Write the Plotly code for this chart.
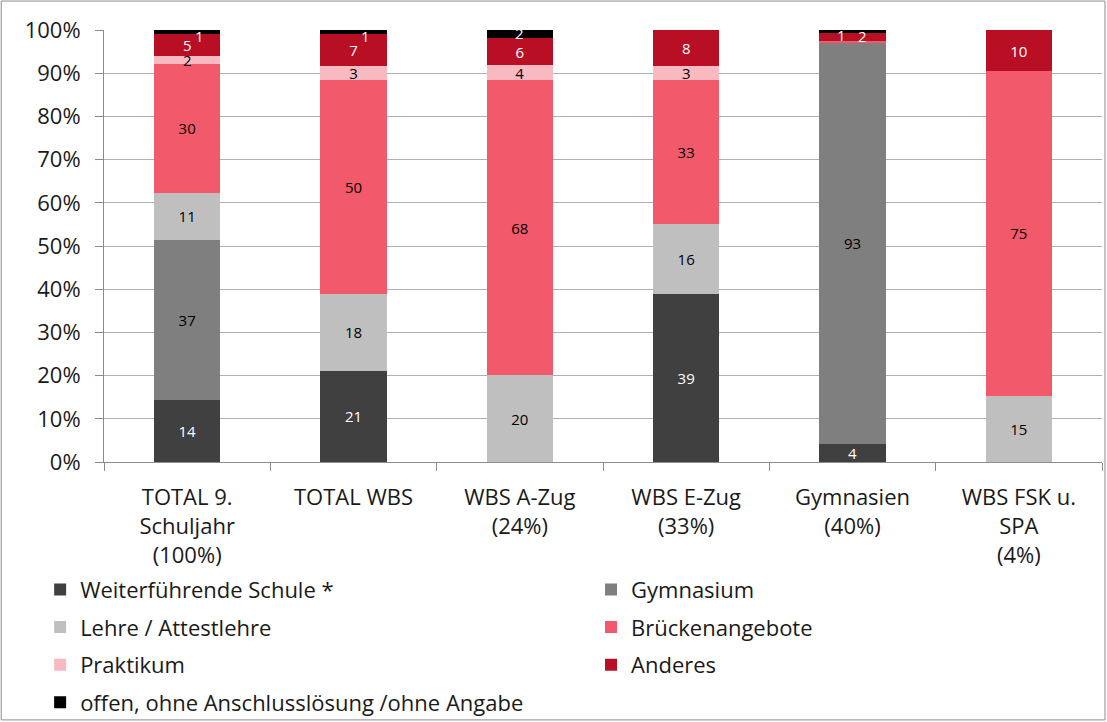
import plotly.graph_objects as go

categories = ["TOTAL 9.<br>Schuljahr<br>(100%)", "TOTAL WBS", "WBS A-Zug<br>(24%)",
              "WBS E-Zug<br>(33%)", "Gymnasien<br>(40%)", "WBS FSK u.<br>SPA<br>(4%)"]

weiterfuehrende = [14.4, 21.1, 0, 38.9, 4.2, 0]
gymnasium = [37.0, 0, 0, 0, 92.8, 0]
lehre = [10.9, 17.8, 20.1, 16.2, 0, 15.3]
bruecken = [29.8, 49.5, 68.3, 33.3, 0.4, 75.2]
praktikum = [1.9, 3.3, 3.5, 3.3, 0, 0]
anderes = [5.1, 7.4, 6.2, 8.3, 1.8, 9.5]
offen = [0.9, 0.9, 2.1, 0.1, 0.8, 0]

# name, werte, farbe, textfarbe, legende (links/rechts)
series = [
    ("Weiterführende Schule *", weiterfuehrende, "#404040", "white", "legend"),
    ("Gymnasium", gymnasium, "#7f7f7f", "black", "legend2"),
    ("Lehre / Attestlehre", lehre, "#bfbfbf", "black", "legend"),
    ("Brückenangebote", bruecken, "#f25a6b", "black", "legend2"),
    ("Praktikum", praktikum, "#f9b9c1", "black", "legend"),
    ("Anderes", anderes, "#b80f25", "white", "legend2"),
    ("offen, ohne Anschlusslösung /ohne Angabe", offen, "#000000", "white", "legend"),
]

fig = go.Figure()
for k, (name, vals, col, tcol, leg) in enumerate(series):
    if name.startswith("offen"):
        txt = [""] * len(vals)
    else:
        txt = [f"{round(v)}" if v >= 1.5 else "" for v in vals]
    if name == "Anderes":
        txt[4] = ""  # wird unten als Annotation gesetzt
    fig.add_trace(go.Bar(
        x=categories, y=vals, name=name, legend=leg, legendgroup=f"g{k}",
        marker=dict(color=col, line=dict(width=0)),
        text=txt, textposition="inside", insidetextanchor="middle",
        textangle=0, textfont=dict(color=tcol, size=15),
        cliponaxis=False,
    ))

# kleine Labels oben (offen / Gymnasien)
small = [
    (0, offen[0], 98.6, 12),
    (1, offen[1], 98.6, 12),
    (2, offen[2], 99.2, 0),
    (4, offen[4], 98.8, -11),
    (4, anderes[4], 98.6, 10),
]
for i, v, yy, xs in small:
    fig.add_annotation(x=categories[i], y=yy, text=f"{round(v)}", showarrow=False,
                       xshift=xs, font=dict(color="white", size=15))

# Rahmen um die ganze Grafik
fig.add_shape(type="rect", xref="paper", yref="paper", x0=-0.103, x1=1.003,
              y0=-0.597, y1=1.067, line=dict(color="#8c8c8c", width=1))

leg_style = dict(xanchor="left", yanchor="top",
                 traceorder="grouped", tracegroupgap=6, bgcolor="rgba(0,0,0,0)",
                 font=dict(size=22), orientation="v")
fig.update_layout(
    barmode="stack", bargap=0.6,
    width=1107, height=730,
    margin=dict(l=104, r=5, t=30, b=268),
    plot_bgcolor="white", paper_bgcolor="white",
    font=dict(family="Open Sans, Noto Sans, sans-serif", color="#1a1a1a", size=22),
    uniformtext=dict(minsize=15, mode="show"),
    legend=dict(x=-0.064, y=-0.247, **leg_style),
    legend2=dict(x=0.488, y=-0.247, **leg_style),
)
fig.update_yaxes(range=[0, 100], dtick=10, ticksuffix="%", showgrid=True,
                 gridcolor="#b0b0b0", showline=True, linecolor="#8c8c8c",
                 ticks="outside", ticklen=8, tickcolor="#8c8c8c", zeroline=False,
                 ticklabelstandoff=10)
fig.update_xaxes(showline=True, linecolor="#8c8c8c", ticks="outside", ticklen=8,
                 tickcolor="#8c8c8c", tickson="boundaries", tickangle=0,
                 ticklabelstandoff=16)

fig.write_html("out.html", config={"displayModeBar": False},
               post_script="document.body.style.margin='0';"
                           "document.body.style.overflow='hidden';")
